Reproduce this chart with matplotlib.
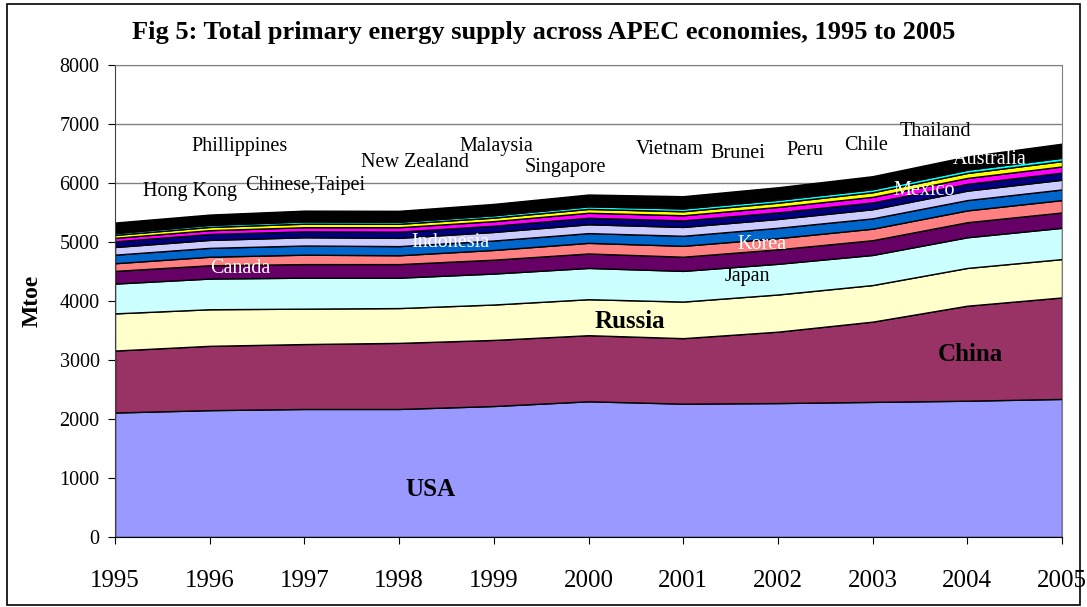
import numpy as np
import matplotlib
matplotlib.use('Agg')
import matplotlib.pyplot as plt
from matplotlib.patches import Rectangle

plt.rcParams['font.family'] = ['Liberation Serif', 'DejaVu Serif']

## Dati (Mtoe)
years = [1995, 1996, 1997, 1998, 1999, 2000, 2001, 2002, 2003, 2004, 2005]

usa       = [2110, 2150, 2170, 2170, 2220, 2300, 2260, 2270, 2290, 2310, 2340]
china     = [1050, 1090, 1100, 1120, 1120, 1120, 1110, 1210, 1360, 1610, 1720]
russia    = [630, 620, 600, 590, 600, 610, 620, 630, 620, 640, 650]
japan     = [505, 520, 525, 515, 525, 530, 520, 520, 510, 520, 530]
canada    = [215, 225, 230, 230, 235, 245, 240, 245, 250, 255, 260]
korea     = [130, 145, 160, 150, 165, 180, 185, 190, 195, 200, 210]
indonesia = [145, 150, 155, 155, 160, 165, 170, 175, 175, 175, 180]
mexico    = [130, 135, 140, 140, 145, 150, 150, 150, 155, 160, 165]
australia = [95, 100, 100, 105, 105, 110, 110, 112, 115, 115, 120]
taipei    = [60, 65, 70, 75, 78, 85, 88, 92, 95, 100, 105]
thailand  = [50, 55, 60, 58, 60, 65, 68, 72, 78, 85, 90]
malaysia  = [30, 35, 38, 35, 40, 45, 48, 50, 52, 55, 58]
hongkong  = [13, 14, 14, 14, 14, 15, 16, 17, 18, 18, 18]
brunei    = [2, 2, 2, 2, 2, 2, 2, 3, 3, 3, 3]
philipp   = [48, 48, 50, 50, 50, 50, 50, 50, 51, 51, 52]
singapore = [30, 28, 30, 30, 32, 34, 36, 34, 34, 34, 38]
vietnam   = [40, 34, 36, 37, 40, 44, 48, 52, 58, 60, 68]
chile     = [20, 21, 23, 24, 25, 25, 26, 26, 27, 28, 29]
peru      = [11, 11, 12, 12, 12, 12, 12, 12, 12, 13, 13]
newzeal   = [15, 16, 16, 16, 17, 17, 17, 17, 17, 17, 17]

series = [usa, china, russia, japan, canada, korea, indonesia, mexico,
          australia, taipei, thailand, malaysia, hongkong, brunei,
          philipp, singapore, vietnam, chile, peru, newzeal]
colori = ['#9999FF', '#993366', '#FFFFCC', '#CCFFFF', '#660066', '#FF8080',
          '#0066CC', '#CCCCFF', '#000080', '#FF00FF', '#FFFF00', '#00FFFF',
          '#800080', '#800000', 'black', 'black', 'black', 'black', 'black',
          'black']

## Etichette: (testo, x, y, colore, grassetto)
etichette = [
    ('USA', 1998.33, 800, 'black', True),
    ('China', 2004.03, 3085, 'black', True),
    ('Russia', 2000.44, 3644, 'black', True),
    ('Japan', 2001.68, 4407, 'black', False),
    ('Korea', 2001.83, 4949, 'white', False),
    ('Indonesia', 1998.54, 4983, 'white', False),
    ('Canada', 1996.32, 4542, 'white', False),
    ('Mexico', 2003.55, 5864, 'white', False),
    ('Australia', 2004.24, 6390, 'white', False),
    ('Phillippines', 1996.32, 6610, 'black', False),
    ('Hong Kong', 1995.79, 5847, 'black', False),
    ('Chinese,Taipei', 1997.01, 5949, 'black', False),
    ('New Zealand', 1998.17, 6339, 'black', False),
    ('Malaysia', 1999.03, 6610, 'black', False),
    ('Singapore', 1999.76, 6254, 'black', False),
    ('Vietnam', 2000.86, 6559, 'black', False),
    ('Brunei', 2001.58, 6492, 'black', False),
    ('Peru', 2002.29, 6542, 'black', False),
    ('Chile', 2002.93, 6627, 'black', False),
    ('Thailand', 2003.66, 6864, 'black', False),
]

fig = plt.figure(figsize=(10.87, 6.07), dpi=100)
ax = fig.add_axes([0.1058, 0.1153, 0.8712, 0.7777])

ax.stackplot(years, *series, colors=colori, edgecolor='black', linewidth=1.0)

for testo, xx, yy, col, bold in etichette:
    if bold:
        ax.text(xx, yy, testo, ha='center', va='center', color=col,
                fontsize=18, fontweight='bold')
    else:
        ax.text(xx, yy, testo, ha='center', va='center', color=col,
                fontsize=14.5)

ax.set_xlim(1995, 2005)
ax.set_ylim(0, 8000)
ax.set_xticks(years)
ax.set_yticks(np.arange(0, 8001, 1000))
ax.tick_params(axis='x', labelsize=18, direction='out', length=5, pad=19)
ax.tick_params(axis='y', labelsize=14.5, direction='out', length=5, pad=6)
ax.yaxis.grid(True, color='#808080', linewidth=1)
ax.set_axisbelow(True)
for s in ['top', 'right']:
    ax.spines[s].set_color('#808080')
ax.spines['left'].set_color('#404040')
ax.spines['bottom'].set_color('black')

ax.set_ylabel('Mtoe', fontsize=17, fontweight='bold', labelpad=12)
fig.text(0.5, 0.947, 'Fig 5: Total primary energy supply across APEC economies, 1995 to 2005',
         ha='center', va='center', fontsize=19, fontweight='bold')

## bordo esterno
fig.patches.append(Rectangle((0.006, 0.004), 0.988, 0.99, transform=fig.transFigure,
                             fill=False, edgecolor='black', linewidth=1.2))

fig.savefig('out.png', dpi=100)
